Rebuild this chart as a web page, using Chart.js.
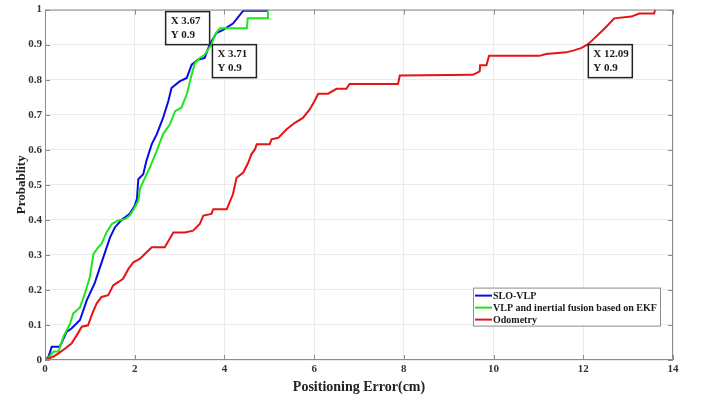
<!DOCTYPE html>
<html>
<head>
<meta charset="utf-8">
<script src="https://cdn.jsdelivr.net/npm/chart.js@4/dist/chart.umd.min.js"></script>
<style>
  html, body { margin: 0; padding: 0; background: #fff; }
  #wrap { width: 702px; height: 399px; }
</style>
</head>
<body>
<div id="wrap"><canvas id="cdf"></canvas></div>
<script>
// series values (x = error in cm, y = probability)
const sloX = [0, 0.08, 0.15, 0.33, 0.48, 0.59, 0.78, 0.93, 1.11, 1.3, 1.45, 1.56, 1.71, 1.89, 2.0, 2.05, 2.08, 2.19, 2.26, 2.38, 2.49, 2.63, 2.75, 2.82, 3.0, 3.16, 3.27, 3.41, 3.56, 3.67, 3.82, 3.97, 4.19, 4.42, 4.97];
const sloY = [0, 0.01, 0.038, 0.038, 0.08, 0.09, 0.114, 0.17, 0.22, 0.293, 0.35, 0.379, 0.4, 0.417, 0.44, 0.46, 0.516, 0.53, 0.568, 0.616, 0.644, 0.69, 0.739, 0.776, 0.795, 0.805, 0.843, 0.857, 0.862, 0.9, 0.933, 0.942, 0.96, 0.997, 0.997];

const ekfX = [0, 0.1, 0.19, 0.3, 0.41, 0.56, 0.63, 0.78, 0.89, 1.0, 1.08, 1.19, 1.26, 1.37, 1.49, 1.63, 1.78, 1.89, 2.0, 2.08, 2.12, 2.23, 2.34, 2.49, 2.63, 2.78, 2.9, 3.04, 3.16, 3.27, 3.34, 3.45, 3.56, 3.71, 3.79, 3.9, 4.5, 4.52, 4.95, 4.97];
const ekfY = [0, 0.01, 0.024, 0.024, 0.066, 0.104, 0.133, 0.15, 0.19, 0.237, 0.303, 0.322, 0.331, 0.364, 0.388, 0.398, 0.402, 0.412, 0.435, 0.455, 0.49, 0.52, 0.55, 0.597, 0.644, 0.672, 0.71, 0.72, 0.758, 0.815, 0.847, 0.862, 0.871, 0.9, 0.928, 0.947, 0.947, 0.975, 0.975, 1.0];

const odoX = [0, 0.19, 0.3, 0.45, 0.59, 0.71, 0.82, 0.96, 1.04, 1.15, 1.26, 1.41, 1.52, 1.63, 1.74, 1.86, 1.97, 2.12, 2.23, 2.38, 2.67, 2.86, 3.12, 3.3, 3.45, 3.53, 3.71, 3.75, 4.05, 4.19, 4.27, 4.42, 4.53, 4.6, 4.68, 4.72, 5.01, 5.05, 5.2, 5.38, 5.57, 5.75, 5.9, 6.01, 6.09, 6.31, 6.5, 6.72, 6.79, 7.87, 7.91, 9.54, 9.69, 9.7, 9.84, 9.9, 11.02, 11.17, 11.62, 11.77, 11.95, 12.09, 12.18, 12.4, 12.55, 12.69, 13.07, 13.25, 13.58, 13.6];
const odoY = [0, 0.01, 0.019, 0.033, 0.047, 0.071, 0.095, 0.099, 0.128, 0.161, 0.18, 0.185, 0.213, 0.222, 0.232, 0.26, 0.279, 0.289, 0.303, 0.322, 0.322, 0.364, 0.364, 0.369, 0.388, 0.412, 0.417, 0.43, 0.43, 0.473, 0.52, 0.535, 0.563, 0.587, 0.601, 0.616, 0.616, 0.63, 0.634, 0.658, 0.677, 0.691, 0.715, 0.739, 0.76, 0.76, 0.774, 0.774, 0.788, 0.788, 0.812, 0.814, 0.824, 0.841, 0.841, 0.868, 0.868, 0.873, 0.878, 0.883, 0.89, 0.9, 0.91, 0.937, 0.956, 0.975, 0.98, 0.989, 0.989, 1.0];

const seriesNames = ['SLO-VLP', 'VLP and inertial fusion based on EKF', 'Odometry'];
const seriesColors = ['#0a0ae6', '#1ee61e', '#e61414'];

// data tips shown on the plot
const tipX = [3.67, 3.71, 12.09];
const tipY = [0.9, 0.9, 0.9];
const tipSide = ['upleft', 'downright', 'downright'];

const serif = "'Liberation Serif', 'Times New Roman', serif";

function pts(xs, ys) {
  return xs.map((x, i) => ({ x: x, y: ys[i] }));
}

// matlab style box with inward ticks, legend and data tips
const matlabBits = {
  id: 'matlabBits',
  afterDatasetsDraw(chart) {
    const ctx = chart.ctx;
    const a = chart.chartArea;
    const xs = chart.scales.x, ys = chart.scales.y;
    ctx.save();
    ctx.strokeStyle = '#8c8c8c';
    ctx.lineWidth = 1;
    ctx.strokeRect(a.left + 0.5, a.top + 0.5, a.right - a.left - 1, a.bottom - a.top - 1);
    ctx.beginPath();
    xs.ticks.forEach(t => {
      const px = Math.round(xs.getPixelForValue(t.value)) + 0.5;
      ctx.moveTo(px, a.bottom); ctx.lineTo(px, a.bottom - 5);
      ctx.moveTo(px, a.top); ctx.lineTo(px, a.top + 5);
    });
    ys.ticks.forEach(t => {
      const py = Math.round(ys.getPixelForValue(t.value)) + 0.5;
      ctx.moveTo(a.left, py); ctx.lineTo(a.left + 5, py);
      ctx.moveTo(a.right, py); ctx.lineTo(a.right - 5, py);
    });
    ctx.stroke();

    // legend
    const lx = a.left + 428, ly = a.top + 278, lw = 187, lh = 38;
    ctx.fillStyle = '#fff';
    ctx.fillRect(lx, ly, lw, lh);
    ctx.strokeStyle = '#8c8c8c';
    ctx.strokeRect(lx + 0.5, ly + 0.5, lw, lh);
    ctx.font = 'bold 10px ' + serif;
    ctx.textBaseline = 'middle';
    chart.data.datasets.forEach((ds, i) => {
      const yy = ly + 8 + i * 12;
      ctx.strokeStyle = ds.borderColor;
      ctx.lineWidth = 2;
      ctx.beginPath();
      ctx.moveTo(lx + 2, yy); ctx.lineTo(lx + 19, yy);
      ctx.stroke();
      ctx.fillStyle = '#1a1a1a';
      ctx.fillText(ds.label, lx + 20, yy + 0.5);
    });

    // data tips
    ctx.font = 'bold 11px ' + serif;
    tipX.forEach((tx, i) => {
      const px = xs.getPixelForValue(tx), py = ys.getPixelForValue(tipY[i]);
      const w = 44, h = 33;
      const bx = tipSide[i] === 'upleft' ? px - w : px + 1;
      const by = tipSide[i] === 'upleft' ? py - h : py;
      ctx.fillStyle = '#fff';
      ctx.fillRect(bx, by, w, h);
      ctx.strokeStyle = '#222';
      ctx.lineWidth = 1.5;
      ctx.strokeRect(bx, by, w, h);
      ctx.fillStyle = '#1a1a1a';
      ctx.textBaseline = 'middle';
      ctx.fillText('X ' + tx, bx + 5, by + 10);
      ctx.fillText('Y ' + tipY[i], bx + 5, by + 24);
    });
    ctx.restore();
  }
};

const cdfChart = new Chart(document.getElementById('cdf'), {
  type: 'line',
  data: {
    datasets: [
      { label: seriesNames[0], data: pts(sloX, sloY), borderColor: seriesColors[0], order: 3 },
      { label: seriesNames[1], data: pts(ekfX, ekfY), borderColor: seriesColors[1], order: 2 },
      { label: seriesNames[2], data: pts(odoX, odoY), borderColor: seriesColors[2], order: 1 },
    ],
  },
  options: {
    responsive: true,
    maintainAspectRatio: false,
    animation: false,
    layout: { padding: { top: 8, right: 29, left: 0, bottom: 0 } },
    elements: {
      point: { radius: 0 },
      line: { borderWidth: 2, tension: 0 },
    },
    plugins: {
      legend: { display: false },
      tooltip: { enabled: false },
    },
    scales: {
      x: {
        type: 'linear',
        min: 0,
        max: 14,
        ticks: { stepSize: 2, color: '#333', font: { family: serif, weight: 'bold', size: 11 }, padding: 3, maxRotation: 0 },
        grid: { color: '#ebebeb', drawTicks: false },
        border: { display: false },
        title: { display: true, text: 'Positioning Error(cm)', color: '#222', font: { family: serif, weight: 'bold', size: 14 }, padding: { top: 0, bottom: 3 } },
        afterFit(scale) { scale.height = 39; },
      },
      y: {
        min: 0,
        max: 1,
        ticks: {
          stepSize: 0.1,
          color: '#333',
          font: { family: serif, weight: 'bold', size: 11 },
          padding: 3,
          callback: (v) => String(Math.round(v * 10) / 10),
        },
        grid: { color: '#ebebeb', drawTicks: false },
        border: { display: false },
        title: { display: true, text: 'Probablity', color: '#222', font: { family: serif, weight: 'bold', size: 13 }, padding: { top: 14, bottom: 0 } },
        afterFit(scale) { scale.width = 45; },
      },
    },
  },
  plugins: [matlabBits],
});
</script>
</body>
</html>
